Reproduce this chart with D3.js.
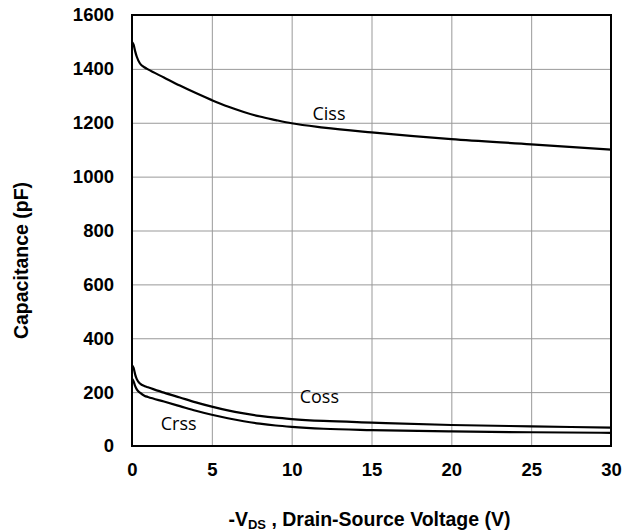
<!DOCTYPE html>
<html>
<head>
<meta charset="utf-8">
<script src="https://cdn.jsdelivr.net/npm/d3@7"></script>
<style>
  body { margin: 0; background: #fff; }
  svg { display: block; }
</style>
</head>
<body>
<div id="chart"></div>
<script>
// values (V, pF)
const vds = [0, 0.1, 0.2, 0.3, 0.5, 0.8, 1, 2, 3, 4, 5, 6, 7, 8, 9, 10, 12, 15, 20, 25, 30];
const ciss = [1500, 1490, 1465, 1445, 1420, 1405, 1398, 1368, 1338, 1310, 1284, 1260, 1240, 1223, 1210, 1198, 1182, 1164, 1139, 1120, 1100];
const coss = [300, 290, 265, 248, 232, 222, 218, 198, 180, 162, 146, 132, 121, 112, 105, 100, 93, 87, 78, 73, 68];
const crss = [250, 240, 222, 210, 198, 186, 182, 165, 148, 131, 116, 103, 92, 83, 76, 71, 64, 59, 54, 51, 49];
const xTicks = [0, 5, 10, 15, 20, 25, 30];
const yTicks = [0, 200, 400, 600, 800, 1000, 1200, 1400, 1600];

const seriesNames = ["Ciss", "Coss", "Crss"];
const seriesVals = [ciss, coss, crss];
// where each curve label sits (data coords)
const labelPos = [[11.3, 1210], [10.5, 158], [1.8, 59]];

const w = 622, h = 531;
const m = {top: 15, right: 11, bottom: 85, left: 132};
const boldFont = "'Liberation Sans', Arial, sans-serif";

const xScale = d3.scaleLinear().domain([0, 30]).range([m.left, w - m.right]);
const yScale = d3.scaleLinear().domain([0, 1600]).range([h - m.bottom, m.top]);

const svg = d3.select("#chart").append("svg")
  .attr("width", w)
  .attr("height", h);

// gridlines
svg.append("g")
  .attr("transform", `translate(0,${h - m.bottom})`)
  .call(d3.axisBottom(xScale).tickValues(xTicks).tickSize(-(h - m.top - m.bottom)).tickFormat(""))
  .call(g => g.select(".domain").remove())
  .selectAll("line").attr("stroke", "#999").attr("stroke-width", 1);

svg.append("g")
  .attr("transform", `translate(${m.left},0)`)
  .call(d3.axisLeft(yScale).tickValues(yTicks).tickSize(-(w - m.left - m.right)).tickFormat(""))
  .call(g => g.select(".domain").remove())
  .selectAll("line").attr("stroke", "#999").attr("stroke-width", 1);

// tick labels
const xAxis = svg.append("g")
  .attr("transform", `translate(0,${h - m.bottom})`)
  .call(d3.axisBottom(xScale).tickValues(xTicks).tickSize(0).tickPadding(17).tickFormat(d3.format("d")));
xAxis.select(".domain").remove();
xAxis.selectAll("text")
  .style("font-family", boldFont)
  .style("font-weight", "bold")
  .style("font-size", "18.5px")
  .attr("fill", "#000");

const yAxis = svg.append("g")
  .attr("transform", `translate(${m.left},0)`)
  .call(d3.axisLeft(yScale).tickValues(yTicks).tickSize(0).tickPadding(18).tickFormat(d3.format("d")));
yAxis.select(".domain").remove();
yAxis.selectAll("text")
  .style("font-family", boldFont)
  .style("font-weight", "bold")
  .style("font-size", "18.5px")
  .attr("fill", "#000");

// plot frame
svg.append("rect")
  .attr("x", m.left)
  .attr("y", m.top)
  .attr("width", w - m.left - m.right)
  .attr("height", h - m.top - m.bottom)
  .attr("fill", "none")
  .attr("stroke", "#000")
  .attr("stroke-width", 2);

// curves
const line = d3.line()
  .x(d => xScale(d[0]))
  .y(d => yScale(d[1]))
  .curve(d3.curveMonotoneX);

seriesVals.forEach((vals, i) => {
  svg.append("path")
    .datum(vds.map((v, j) => [v, vals[j]]))
    .attr("d", line)
    .attr("fill", "none")
    .attr("stroke", "#000")
    .attr("stroke-width", 2.2);

  svg.append("text")
    .attr("x", xScale(labelPos[i][0]))
    .attr("y", yScale(labelPos[i][1]))
    .style("font-family", "'Open Sans', sans-serif")
    .style("font-size", "18px")
    .attr("fill", "#000")
    .text(seriesNames[i]);
});

// axis titles
svg.append("text")
  .attr("transform", `translate(28,${(m.top + h - m.bottom) / 2 + 30}) rotate(-90)`)
  .attr("text-anchor", "middle")
  .style("font-family", boldFont)
  .style("font-weight", "bold")
  .style("font-size", "19.5px")
  .text("Capacitance (pF)");

const xt = svg.append("text")
  .attr("x", (m.left + w - m.right) / 2 - 2)
  .attr("y", 526)
  .attr("text-anchor", "middle")
  .style("font-family", boldFont)
  .style("font-weight", "bold")
  .style("font-size", "19.5px");
xt.append("tspan").text("-V");
xt.append("tspan").attr("dy", 3).style("font-size", "13px").text("DS");
xt.append("tspan").attr("dy", -3).text(" , Drain-Source Voltage (V)");
</script>
</body>
</html>
